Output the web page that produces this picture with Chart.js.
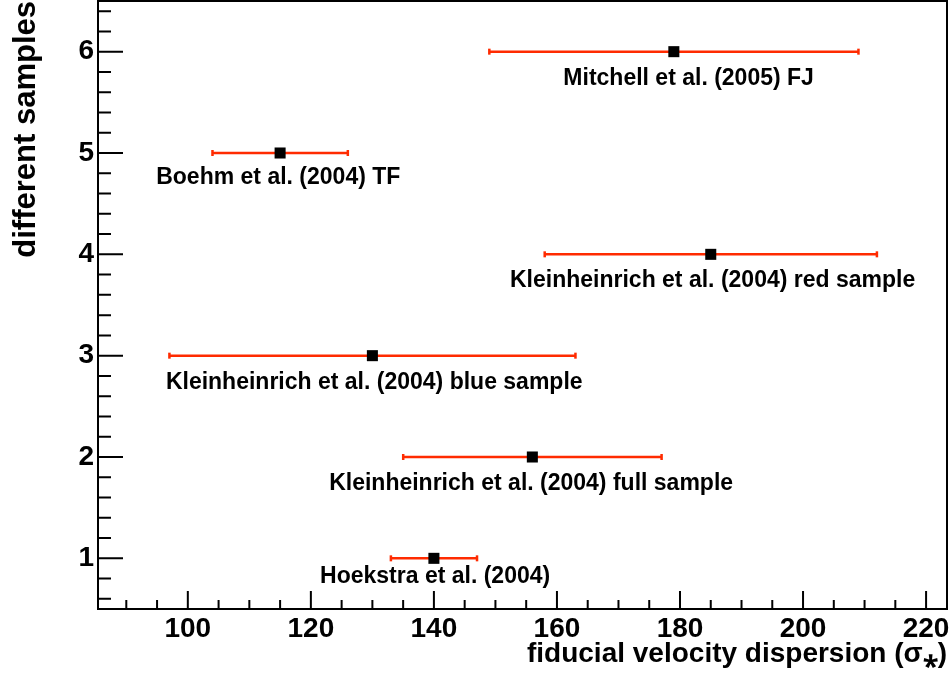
<!DOCTYPE html>
<html>
<head>
<meta charset="utf-8">
<script src="https://cdn.jsdelivr.net/npm/chart.js@4"></script>
<style>
  html, body { margin: 0; padding: 0; background: #fff; }
  canvas { display: block; }
</style>
</head>
<body>
<canvas id="chart" width="952" height="674"></canvas>
<script>
// samples, top to bottom
const samples = [
  'Mitchell et al. (2005) FJ',
  'Boehm et al. (2004) TF',
  'Kleinheinrich et al. (2004) red sample',
  'Kleinheinrich et al. (2004) blue sample',
  'Kleinheinrich et al. (2004) full sample',
  'Hoekstra et al. (2004)'
];
const sampleIndex = [6, 5, 4, 3, 2, 1];
const sigmaValues = [179, 115, 185, 130, 156, 140];
const sigmaErrors = [30, 11, 27, 33, 21, 7];
// where each caption sits (data units, text baseline)
const labelX = [181.4, 114.7, 185.3, 130.3, 155.8, 140.2];
const labelY = [5.675, 4.695, 3.675, 2.675, 1.675, 0.754];

const xMin = 85.4, xMax = 223.4, xStep = 5, xLabelStep = 20;
const yMin = 0.5, yMax = 6.5, yStep = 0.2, yLabelStep = 1;

const FONT = '"Liberation Sans", Arial, Helvetica, sans-serif';
const BAR_COLOR = '#ff2b00';

const isWhole = (v, step) => Math.abs(v / step - Math.round(v / step)) < 1e-6;

// ticks every `step` inside [min, max]
function stepTicks(min, max, step) {
  const out = [];
  for (let k = Math.ceil(min / step - 1e-9); k * step <= max + 1e-9; k++) {
    out.push({ value: Math.round(k * step * 1000) / 1000 });
  }
  return out;
}

function noPadding(scale) {
  scale.paddingTop = 0;
  scale.paddingBottom = 0;
  scale.paddingLeft = 0;
  scale.paddingRight = 0;
}

const frameAndTicks = {
  id: 'frameAndTicks',
  afterDraw(chart) {
    const { ctx, chartArea: a, scales } = chart;
    ctx.save();
    ctx.strokeStyle = '#000';
    ctx.lineWidth = 2;
    ctx.beginPath();
    scales.x.ticks.forEach(t => {
      const px = scales.x.getPixelForValue(t.value);
      const len = isWhole(t.value, xLabelStep) ? 18 : 9;
      ctx.moveTo(px, a.bottom);
      ctx.lineTo(px, a.bottom - len);
    });
    scales.y.ticks.forEach(t => {
      const py = scales.y.getPixelForValue(t.value);
      const len = isWhole(t.value, yLabelStep) ? 25 : 13;
      ctx.moveTo(a.left, py);
      ctx.lineTo(a.left + len, py);
    });
    ctx.stroke();
    ctx.strokeRect(a.left, a.top, a.right - a.left, a.bottom - a.top);
    ctx.restore();
  }
};

const errorBars = {
  id: 'errorBars',
  beforeDatasetsDraw(chart) {
    const { ctx, scales: { x, y } } = chart;
    ctx.save();
    ctx.strokeStyle = BAR_COLOR;
    ctx.fillStyle = BAR_COLOR;
    ctx.lineWidth = 2.5;
    sigmaValues.forEach((v, i) => {
      const py = y.getPixelForValue(sampleIndex[i]);
      const x0 = x.getPixelForValue(v - sigmaErrors[i]);
      const x1 = x.getPixelForValue(v + sigmaErrors[i]);
      ctx.beginPath();
      ctx.moveTo(x0, py);
      ctx.lineTo(x1, py);
      ctx.stroke();
      ctx.fillRect(x0 - 1.2, py - 3, 2.5, 6);
      ctx.fillRect(x1 - 1.2, py - 3, 2.5, 6);
    });
    ctx.restore();
  }
};

const captions = {
  id: 'captions',
  afterDatasetsDraw(chart) {
    const { ctx, scales: { x, y } } = chart;
    ctx.save();
    ctx.fillStyle = '#000';
    ctx.font = 'bold 23px ' + FONT;
    ctx.textAlign = 'center';
    ctx.textBaseline = 'alphabetic';
    samples.forEach((s, i) => {
      ctx.fillText(s, x.getPixelForValue(labelX[i]), y.getPixelForValue(labelY[i]));
    });
    ctx.restore();
  }
};

new Chart(document.getElementById('chart'), {
  type: 'scatter',
  data: {
    datasets: [{
      data: sigmaValues.map((v, i) => ({ x: v, y: sampleIndex[i] })),
      pointStyle: 'rect',
      pointRadius: 7.8,
      backgroundColor: '#000',
      borderColor: '#000',
      borderWidth: 0
    }]
  },
  options: {
    responsive: false,
    animation: false,
    layout: { autoPadding: false, padding: { top: 1, right: 5, left: 0, bottom: 0 } },
    plugins: {
      legend: { display: false },
      tooltip: { enabled: false }
    },
    scales: {
      x: {
        type: 'linear',
        min: xMin,
        max: xMax,
        grid: { display: false, drawTicks: false },
        border: { display: false },
        afterBuildTicks(scale) { scale.ticks = stepTicks(xMin, xMax, xStep); },
        afterFit(scale) { scale.height = 65; noPadding(scale); },
        ticks: {
          autoSkip: false,
          maxRotation: 0,
          padding: 3,
          color: '#000',
          font: { family: FONT, size: 28, weight: 'bold' },
          callback: v => (isWhole(v, xLabelStep) ? String(Math.round(v)) : '')
        },
        title: {
          display: true,
          text: 'fiducial velocity dispersion (σ\u204E)',
          align: 'end',
          color: '#000',
          padding: { top: 0, bottom: 6 },
          font: { family: FONT, size: 28, weight: 'bold', lineHeight: 1 }
        }
      },
      y: {
        type: 'linear',
        min: yMin,
        max: yMax,
        grid: { display: false, drawTicks: false },
        border: { display: false },
        afterBuildTicks(scale) { scale.ticks = stepTicks(yMin, yMax, yStep); },
        afterFit(scale) { scale.width = 98; noPadding(scale); },
        ticks: {
          autoSkip: false,
          padding: 4,
          color: '#000',
          font: { family: FONT, size: 28, weight: 'bold' },
          callback: v => (isWhole(v, yLabelStep) ? String(Math.round(v)) : '')
        },
        title: {
          display: true,
          text: 'different samples',
          align: 'end',
          color: '#000',
          padding: { top: 11, bottom: 0 },
          font: { family: FONT, size: 31, weight: 'bold', lineHeight: 1 }
        }
      }
    }
  },
  plugins: [errorBars, captions, frameAndTicks]
});
</script>
</body>
</html>
